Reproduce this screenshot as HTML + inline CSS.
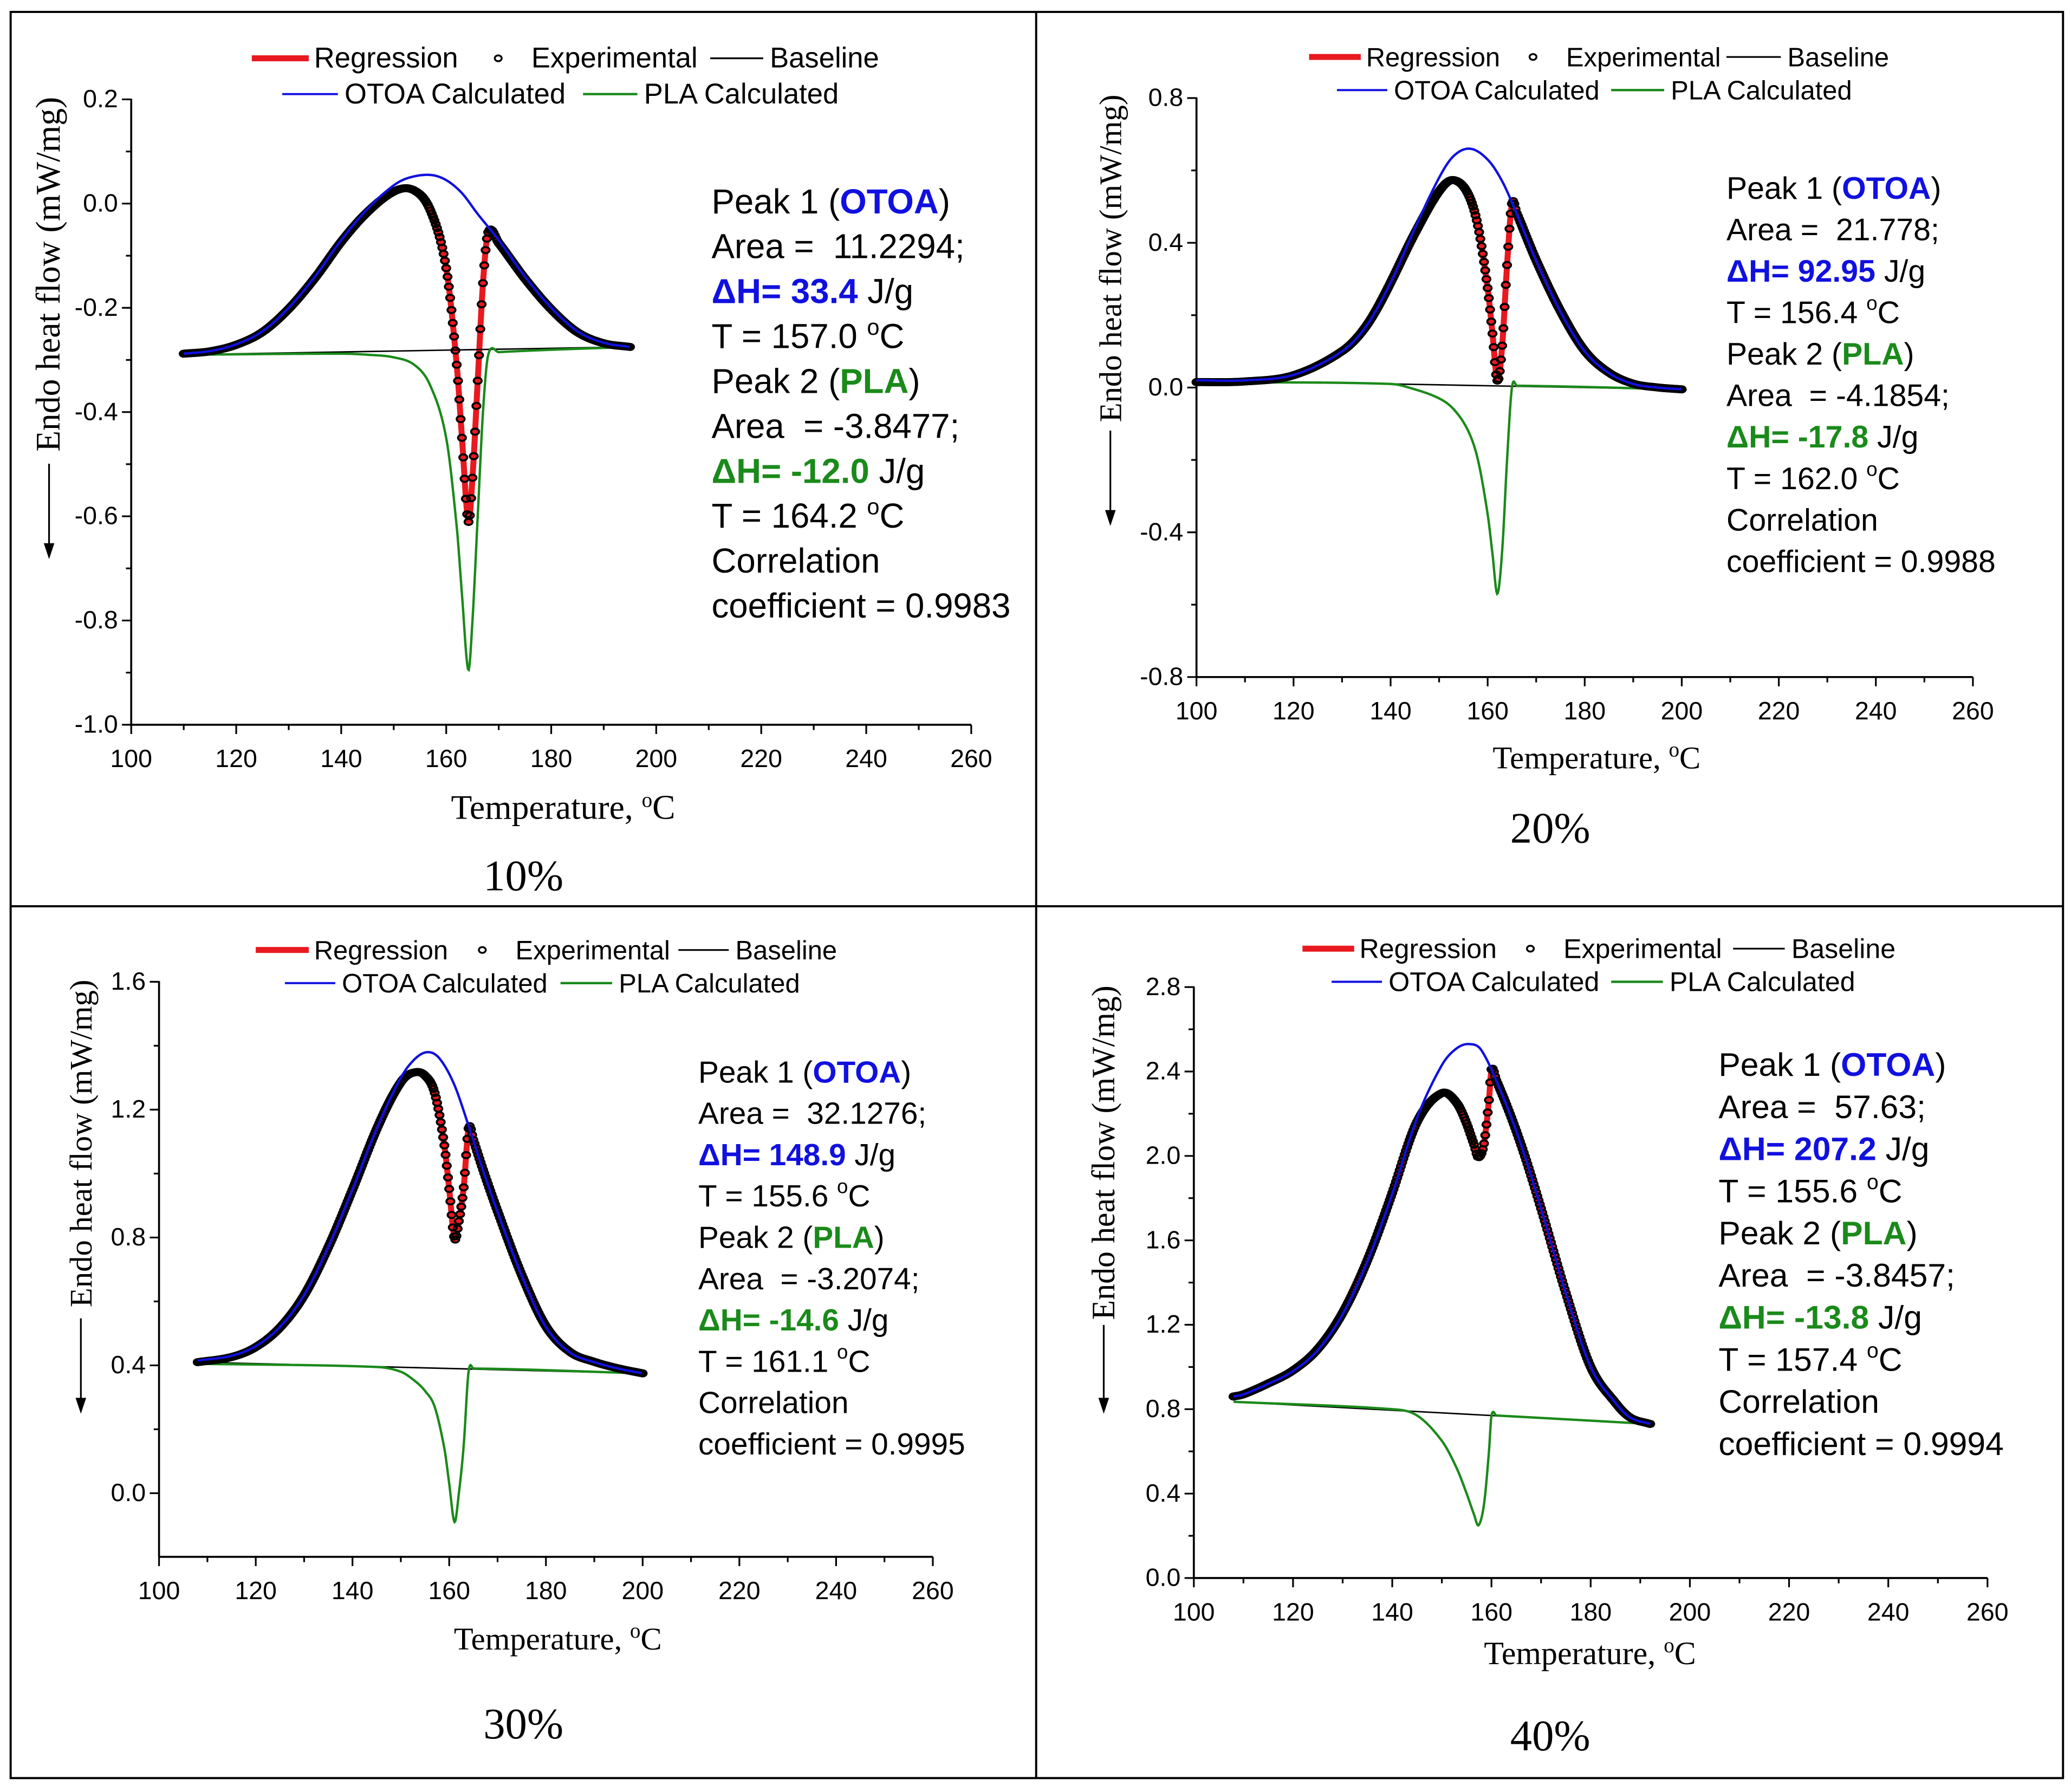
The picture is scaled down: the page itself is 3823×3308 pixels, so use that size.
<!DOCTYPE html>
<html><head><meta charset="utf-8">
<style>
html,body{margin:0;padding:0;background:#fff;}
svg{display:block;}
.tk{font-family:"Liberation Sans",sans-serif;font-size:19px;fill:#000;}
.lg{font-family:"Liberation Sans",sans-serif;fill:#000;}
.an{font-family:"Liberation Sans",sans-serif;fill:#000;}
.ti{font-family:"Liberation Serif",serif;fill:#000;}
.pc{font-family:"Liberation Serif",serif;font-size:33px;fill:#000;}
</style></head>
<body>
<svg id="fig" width="3823" height="3308" viewBox="0 0 1563 1352.5" xmlns="http://www.w3.org/2000/svg">
<rect x="0" y="0" width="1563" height="1352.5" fill="#fff"/>
<rect x="8" y="9" width="1549" height="1333" fill="none" stroke="#000" stroke-width="1.6"/>
<line x1="782" y1="9" x2="782" y2="1342" stroke="#000" stroke-width="1.6"/>
<line x1="8" y1="684" x2="1557" y2="684" stroke="#000" stroke-width="1.6"/>
</svg>
<script>
// ---------- data ----------
// Panel 10%
const p1Temps = [110,115,120,125,130,135,140,145,150,153,157,160,163,166,170,175,180,185,190,195];
const p1Otoa  = [-0.288,-0.283,-0.27,-0.245,-0.2,-0.14,-0.07,-0.01,0.035,0.05,0.055,0.045,0.02,-0.02,-0.07,-0.14,-0.2,-0.245,-0.267,-0.275];
const p1PlaT  = [110,140,145,150,154,157,160,162,163,164.2,165,166,167,168,170,195];
const p1Pla   = [-0.29,-0.288,-0.29,-0.295,-0.31,-0.35,-0.45,-0.62,-0.75,-0.895,-0.8,-0.6,-0.4,-0.29,-0.285,-0.275];
const p1Base  = [[110,-0.29],[195,-0.275]];
// Panel 20%
const p2Temps = [100,110,120,130,135,140,145,150,153,156.4,160,163,166,170,175,180,185,190,195,200];
const p2Otoa  = [0.02,0.02,0.035,0.1,0.17,0.29,0.44,0.58,0.64,0.66,0.63,0.57,0.48,0.35,0.21,0.1,0.04,0.01,0.0,-0.005];
const p2PlaT  = [100,140,145,150,153,156,158,160,161,162,163,164,165,166,200];
const p2Pla   = [0.015,0.01,-0.005,-0.03,-0.06,-0.12,-0.2,-0.35,-0.46,-0.57,-0.45,-0.2,0.0,0.005,-0.005];
const p2Base  = [[100,0.02],[200,-0.005]];
// Panel 30%
const p3Temps = [108,115,120,125,130,135,140,145,150,153,155.6,158,161,164,167,170,175,180,185,190,195,200];
const p3Otoa  = [0.415,0.43,0.46,0.52,0.62,0.77,0.95,1.14,1.3,1.36,1.38,1.36,1.28,1.15,1.01,0.88,0.68,0.52,0.44,0.41,0.39,0.375];
const p3PlaT  = [108,145,150,153,155,157,159,160,161.1,162,163,164,165,200];
const p3Pla   = [0.405,0.395,0.38,0.35,0.32,0.27,0.14,0.03,-0.09,0.0,0.15,0.38,0.39,0.375];
const p3Base  = [[108,0.41],[200,0.375]];
// Panel 40%
const p4Temps = [108,110,115,120,125,130,135,140,145,150,153,155.6,158,162,166,170,175,180,185,188,192];
const p4Otoa  = [0.86,0.87,0.92,0.98,1.08,1.25,1.5,1.82,2.18,2.43,2.51,2.53,2.5,2.3,2.05,1.75,1.35,1.0,0.83,0.76,0.73];
const p4PlaT  = [108,140,145,150,153,155,156.5,157.4,158.5,159.5,160,161,192];
const p4Pla   = [0.835,0.8,0.77,0.65,0.52,0.4,0.3,0.25,0.35,0.6,0.77,0.77,0.73];
const p4Base  = [[108,0.835],[192,0.73]];

const xTicks = [100,120,140,160,180,200,220,240,260];
const p1YTicks = [0.2,0.0,-0.2,-0.4,-0.6,-0.8,-1.0];
const p2YTicks = [0.8,0.4,0.0,-0.4,-0.8];
const p3YTicks = [1.6,1.2,0.8,0.4,0.0];
const p4YTicks = [2.8,2.4,2.0,1.6,1.2,0.8,0.4,0.0];

const NS = "http://www.w3.org/2000/svg";
const svg = document.getElementById('fig');
function mk(tag, attrs, parent, text){
  const e = document.createElementNS(NS, tag);
  for (const k in attrs) e.setAttribute(k, attrs[k]);
  if (text !== undefined) e.textContent = text;
  (parent||svg).appendChild(e);
  return e;
}
function interp(T, V, t){
  if (t <= T[0]) return V[0];
  if (t >= T[T.length-1]) return V[V.length-1];
  let i = 0; while (T[i+1] < t) i++;
  const p0 = V[Math.max(i-1,0)], p1 = V[i], p2 = V[i+1], p3 = V[Math.min(i+2,V.length-1)];
  const t0 = T[Math.max(i-1,0)], t1 = T[i], t2 = T[i+1], t3 = T[Math.min(i+2,T.length-1)];
  const h = t2 - t1, u = (t - t1)/h;
  const m1 = (p2 - p0)/(t2 - t0 || 1)*h, m2 = (p3 - p1)/(t3 - t1 || 1)*h;
  const u2=u*u, u3=u2*u;
  return (2*u3-3*u2+1)*p1 + (u3-2*u2+u)*m1 + (-2*u3+3*u2)*p2 + (u3-u2)*m2;
}

function panel(cfg){
  const g = mk('g', {});
  
  
  const X = t => cfg.x0 + (t - 100)/(260 - 100)*(cfg.x1 - cfg.x0);
  const Y = v => cfg.yTop + (cfg.vTop - v)/(cfg.vTop - cfg.vBot)*(cfg.yBot - cfg.yTop);
  const yAxisBottom = cfg.axisBottom;
  const vAxisBottom = cfg.vTop - (yAxisBottom - cfg.yTop)/(cfg.yBot - cfg.yTop)*(cfg.vTop - cfg.vBot);
  const ax = mk('line', {x1:cfg.x0, y1:Y(cfg.vTop)-0.5, x2:cfg.x0, y2:yAxisBottom, stroke:'#000','stroke-width':1.5}, g);
  
  
  const bx = mk('line', {x1:cfg.x0, y1:yAxisBottom, x2:cfg.x1, y2:yAxisBottom, stroke:'#000','stroke-width':1.5}, g);
  
  
  for (let t = 100; t <= 260; t += 10){
    const major = (t % 20 === 0);
    mk('line', {x1:X(t), y1:yAxisBottom, x2:X(t), y2:yAxisBottom + (major?7:4), stroke:'#000','stroke-width':1.3}, g);
  }
  xTicks.forEach(t => {
    const tl = mk('text', {x:X(t), y:yAxisBottom+32, 'text-anchor':'middle', class:'tk'}, g, String(t));
    
    
  });
  const step = cfg.yTicks[0] - cfg.yTicks[1];
  for (let v = cfg.vTop; v >= vAxisBottom - 1e-6; v -= step/2){
    const major = cfg.yTicks.some(q => Math.abs(q - v) < 1e-6);
    mk('line', {x1:cfg.x0 - (major?7:4), y1:Y(v), x2:cfg.x0, y2:Y(v), stroke:'#000','stroke-width':1.3}, g);
  }
  cfg.yTicks.forEach(v => {
    const tl = mk('text', {x:cfg.x0-10, y:Y(v)+6, 'text-anchor':'end', class:'tk'}, g, v.toFixed(1));
    
    
  });
  const tA = cfg.base[0][0], tB = cfg.base[1][0];
  const baseAt = t => cfg.base[0][1] + (t - tA)/(tB - tA)*(cfg.base[1][1] - cfg.base[0][1]);
  const pts = (fn, step) => { let s = ''; for (let t = tA; t <= tB + 1e-9; t += step) s += (s?' L':'M') + X(t).toFixed(2) + ' ' + Y(fn(t)).toFixed(2); return s; };
  const otoa = t => interp(cfg.temps, cfg.otoa, t);
  const pla = t => interp(cfg.plaT, cfg.pla, t);
  const expv = t => otoa(t) + pla(t) - baseAt(t);
  const reg = mk('path', {d:pts(expv,0.2), fill:'none', stroke:'#e8191f','stroke-width':4.5,'stroke-linejoin':'round'}, g);
  
  
  const bl = mk('path', {d:pts(baseAt,5), fill:'none', stroke:'#000','stroke-width':1.1}, g);
  
  
  const gr = mk('path', {d:pts(pla,0.15), fill:'none', stroke:'#1a8a1a','stroke-width':1.8}, g);
  
  
  const eg = mk('g', {fill:'none', stroke:'#000','stroke-width':1.5}, g);
  
  
  for (let t = tA; t <= tB + 1e-9; t += 0.25){
    mk('ellipse', {cx:X(t), cy:Y(expv(t)), rx:3.0, ry:2.3}, eg);
  }
  const bu = mk('path', {d:pts(otoa,0.3), fill:'none', stroke:'#1010e0','stroke-width':1.8}, g);
  
  
  const xt = mk('text', {x:cfg.xlab[0], y:cfg.xlab[1], 'text-anchor':'middle', class:'ti', style:`font-size:${cfg.tf}px`}, g);
  xt.innerHTML = 'Temperature, <tspan dy="-9" style="font-size:16px">o</tspan><tspan dy="9">C</tspan>';
  
  
  const yt = mk('text', {x:0, y:0, 'text-anchor':'middle', class:'ti', style:`font-size:${cfg.tf}px`, transform:`translate(${cfg.ylab[0]},${cfg.ylab[1]}) rotate(-90)`}, g, 'Endo heat flow (mW/mg)');
  
  
  const ar = mk('g', {}, g);
  
  
  mk('line', {x1:cfg.ylab[0]-8, y1:cfg.arrow[0], x2:cfg.ylab[0]-8, y2:cfg.arrow[1]-6, stroke:'#000','stroke-width':1.3}, ar);
  mk('path', {d:`M${cfg.ylab[0]-12} ${cfg.arrow[1]-10} L${cfg.ylab[0]-4} ${cfg.arrow[1]-10} L${cfg.ylab[0]-8} ${cfg.arrow[1]+2} Z`, fill:'#000'}, ar);
  const pc = mk('text', {x:cfg.pct[0], y:cfg.pct[1], 'text-anchor':'middle', class:'pc'}, g, cfg.pctText);
  
  
  const L = cfg.leg;
  const lg = mk('g', {}, g);
  
  
  const lf = {class:'lg', style:`font-size:${L.fs}px`};
  mk('line', {x1:L.r[0], y1:L.y1-7, x2:L.r[1], y2:L.y1-7, stroke:'#e8191f','stroke-width':4.5}, lg);
  mk('text', Object.assign({x:L.r[1]+4, y:L.y1}, lf), lg, 'Regression');
  mk('ellipse', {cx:L.c, cy:L.y1-7, rx:2.6, ry:2.2, fill:'none', stroke:'#000','stroke-width':1.4}, lg);
  mk('text', Object.assign({x:L.c+25, y:L.y1}, lf), lg, 'Experimental');
  mk('line', {x1:L.b[0], y1:L.y1-7, x2:L.b[1], y2:L.y1-7, stroke:'#000','stroke-width':1.3}, lg);
  mk('text', Object.assign({x:L.b[1]+5, y:L.y1}, lf), lg, 'Baseline');
  mk('line', {x1:L.o[0], y1:L.y2-7, x2:L.o[1], y2:L.y2-7, stroke:'#1010e0','stroke-width':1.6}, lg);
  mk('text', Object.assign({x:L.o[1]+5, y:L.y2}, lf), lg, 'OTOA Calculated');
  mk('line', {x1:L.p[0], y1:L.y2-7, x2:L.p[1], y2:L.y2-7, stroke:'#1a8a1a','stroke-width':1.8}, lg);
  mk('text', Object.assign({x:L.p[1]+5, y:L.y2}, lf), lg, 'PLA Calculated');
  const A = cfg.ann, ys = A.ys, x = A.x;
  const an = mk('g', {class:'an'}, g);
  
  
  const sup = Math.round(A.fs*0.65);
  const lines = [
    `Peak 1 (<tspan fill="#1010e0" font-weight="bold">OTOA</tspan>)`,
    `Area = &#160;${A.a1};`,
    `<tspan fill="#1010e0" font-weight="bold">ΔH= ${A.h1}</tspan> J/g`,
    `T = ${A.t1} <tspan dy="-10" style="font-size:${sup}px">o</tspan><tspan dy="10">C</tspan>`,
    `Peak 2 (<tspan fill="#1a8a1a" font-weight="bold">PLA</tspan>)`,
    `Area &#160;= ${A.a2};`,
    `<tspan fill="#1a8a1a" font-weight="bold">ΔH= ${A.h2}</tspan> J/g`,
    `T = ${A.t2} <tspan dy="-10" style="font-size:${sup}px">o</tspan><tspan dy="10">C</tspan>`,
    `Correlation`,
    `coefficient = ${A.r}`
  ];
  lines.forEach((s,i) => { const t = mk('text', {x:x, y:ys[0] + i*A.dy, class:'an', style:`font-size:${A.fs}px`}, an); t.innerHTML = s; });
}

panel({name:'panel-10-percent', x0:99, x1:733, yTop:75, yBot:547, vTop:0.2, vBot:-1.0, axisBottom:547, yTicks:p1YTicks,
  temps:p1Temps, otoa:p1Otoa, plaT:p1PlaT, pla:p1Pla, base:p1Base, tf:26,
  xlab:[425,618], ylab:[45,207], arrow:[350,420], pct:[395,672], pctText:'10%',
  leg:{fs:21.5, y1:51, y2:78, r:[190,233], c:376, b:[536,576], o:[213,255], p:[440,481]},
  ann:{x:537, ys:[161], dy:33.9, fs:26, a1:'11.2294', h1:'33.4', t1:'157.0', a2:'-3.8477', h2:'-12.0', t2:'164.2', r:'0.9983'}});
panel({name:'panel-20-percent', x0:903, x1:1489, yTop:74, yBot:511, vTop:0.8, vBot:-0.8, axisBottom:511, yTicks:p2YTicks,
  temps:p2Temps, otoa:p2Otoa, plaT:p2PlaT, pla:p2Pla, base:p2Base, tf:24,
  xlab:[1205,580], ylab:[846,195], arrow:[325,395], pct:[1170,636], pctText:'20%',
  leg:{fs:20, y1:50, y2:75, r:[988,1027], c:1157, b:[1303,1344], o:[1009,1047], p:[1216,1256]},
  ann:{x:1303, ys:[150], dy:31.3, fs:23.4, a1:'21.778', h1:'92.95', t1:'156.4', a2:'-4.1854', h2:'-17.8', t2:'162.0', r:'0.9988'}});
panel({name:'panel-30-percent', x0:120, x1:704, yTop:741, yBot:1127, vTop:1.6, vBot:0.0, axisBottom:1175, yTicks:p3YTicks,
  temps:p3Temps, otoa:p3Otoa, plaT:p3PlaT, pla:p3Pla, base:p3Base, tf:24,
  xlab:[421,1245], ylab:[69,863], arrow:[995,1065], pct:[395,1312], pctText:'30%',
  leg:{fs:20, y1:724, y2:749, r:[193,233], c:364, b:[512,550], o:[215,253], p:[423,462]},
  ann:{x:527, ys:[817], dy:31.2, fs:23.2, a1:'32.1276', h1:'148.9', t1:'155.6', a2:'-3.2074', h2:'-14.6', t2:'161.1', r:'0.9995'}});
panel({name:'panel-40-percent', x0:901, x1:1500, yTop:745, yBot:1191, vTop:2.8, vBot:0.0, axisBottom:1191, yTicks:p4YTicks,
  temps:p4Temps, otoa:p4Otoa, plaT:p4PlaT, pla:p4Pla, base:p4Base, tf:24.5,
  xlab:[1200,1256], ylab:[841,870], arrow:[1000,1065], pct:[1170,1321], pctText:'40%',
  leg:{fs:20.5, y1:723, y2:748, r:[983,1022], c:1155, b:[1308,1347], o:[1005,1043], p:[1216,1255]},
  ann:{x:1297, ys:[812], dy:31.8, fs:24.8, a1:'57.63', h1:'207.2', t1:'155.6', a2:'-3.8457', h2:'-13.8', t2:'157.4', r:'0.9994'}});
</script>
</body></html>
